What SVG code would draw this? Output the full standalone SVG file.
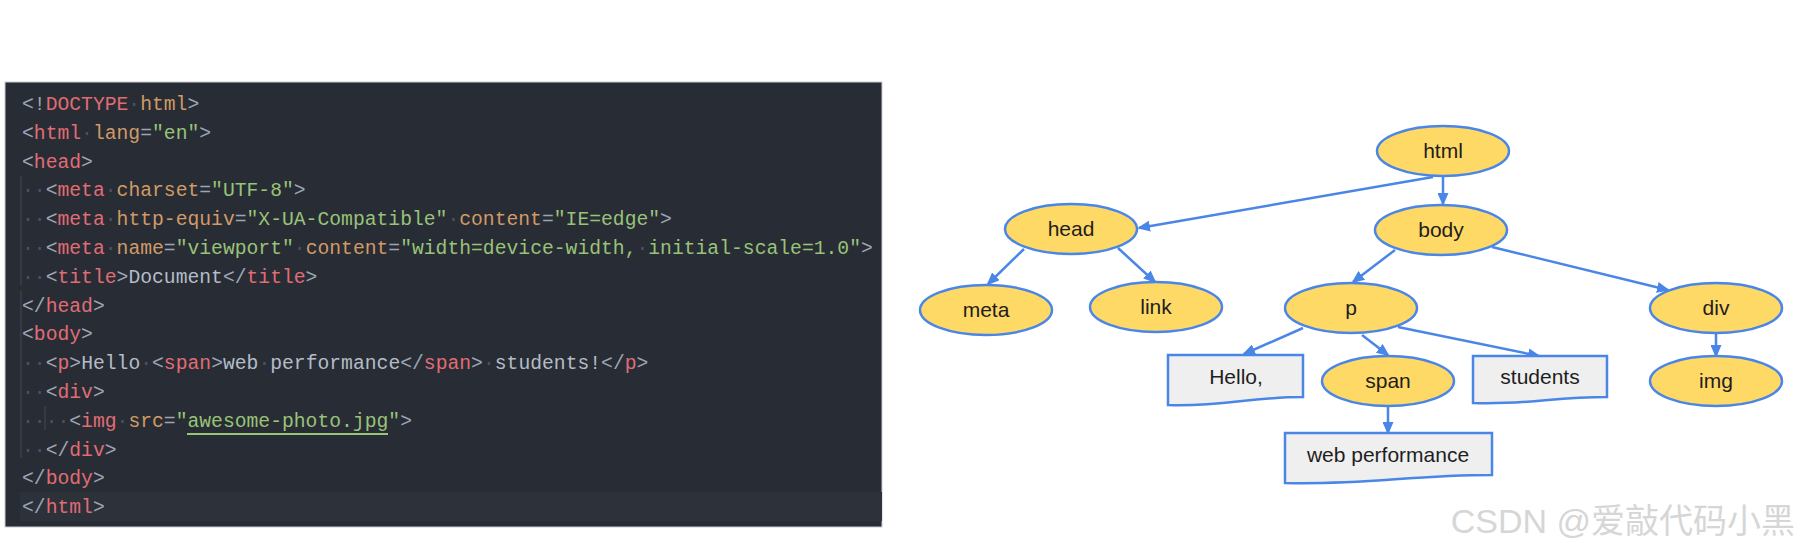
<svg xmlns="http://www.w3.org/2000/svg" width="1800" height="555" viewBox="0 0 1800 555">
<style>
.code{font-family:"Liberation Mono","DejaVu Sans Mono",monospace;font-size:19.7px}
.p{fill:#9da5b4}.t{fill:#e06c75}.a{fill:#d19a66}.s{fill:#98c379}.x{fill:#b4bcc8}.w{fill:#4b5263}
.guide{stroke:#3b4048;stroke-width:1.5}
.el{fill:#ffd966;stroke:#4a86e8;stroke-width:2.5}
.doc{fill:#efefef;stroke:#4a86e8;stroke-width:2.5}
.lbl{font-family:"Liberation Sans",Arial,sans-serif;font-size:21px;fill:#1e1e1e;text-anchor:middle}
.edge{stroke:#4a86e8;stroke-width:2.5;fill:none;marker-end:url(#arr)}
</style>
<defs>
<marker id="arr" markerUnits="userSpaceOnUse" markerWidth="13" markerHeight="11" refX="11" refY="5.5" orient="auto">
<path d="M0,0 L13,5.5 L0,11 z" fill="#4a86e8"/>
</marker>
</defs>
<rect width="1800" height="555" fill="#ffffff"/>
<g id="code-panel">
<rect x="5" y="82" width="877" height="445" fill="#282c34" stroke="#c9cbd0" stroke-width="1"/>
<rect x="20" y="492" width="862" height="29" fill="#2c313a"/>
<line class="guide" x1="21" y1="176" x2="21" y2="285"/>
<line class="guide" x1="21" y1="291" x2="21" y2="458"/>
<line class="guide" x1="45" y1="406" x2="45" y2="430"/>
<line x1="187" y1="434" x2="388" y2="434" stroke="#98c379" stroke-width="2"/>
<text class="code" x="22" y="110"><tspan class="p">&lt;!</tspan><tspan class="t">DOCTYPE</tspan><tspan class="w">·</tspan><tspan class="a">html</tspan><tspan class="p">&gt;</tspan></text>
<text class="code" x="22" y="138.8"><tspan class="p">&lt;</tspan><tspan class="t">html</tspan><tspan class="w">·</tspan><tspan class="a">lang</tspan><tspan class="p">=</tspan><tspan class="s">"en"</tspan><tspan class="p">&gt;</tspan></text>
<text class="code" x="22" y="167.6"><tspan class="p">&lt;</tspan><tspan class="t">head</tspan><tspan class="p">&gt;</tspan></text>
<text class="code" x="22" y="196.4"><tspan class="w">··</tspan><tspan class="p">&lt;</tspan><tspan class="t">meta</tspan><tspan class="w">·</tspan><tspan class="a">charset</tspan><tspan class="p">=</tspan><tspan class="s">"UTF-8"</tspan><tspan class="p">&gt;</tspan></text>
<text class="code" x="22" y="225.2"><tspan class="w">··</tspan><tspan class="p">&lt;</tspan><tspan class="t">meta</tspan><tspan class="w">·</tspan><tspan class="a">http-equiv</tspan><tspan class="p">=</tspan><tspan class="s">"X-UA-Compatible"</tspan><tspan class="w">·</tspan><tspan class="a">content</tspan><tspan class="p">=</tspan><tspan class="s">"IE=edge"</tspan><tspan class="p">&gt;</tspan></text>
<text class="code" x="22" y="254"><tspan class="w">··</tspan><tspan class="p">&lt;</tspan><tspan class="t">meta</tspan><tspan class="w">·</tspan><tspan class="a">name</tspan><tspan class="p">=</tspan><tspan class="s">"viewport"</tspan><tspan class="w">·</tspan><tspan class="a">content</tspan><tspan class="p">=</tspan><tspan class="s">"width=device-width,</tspan><tspan class="w">·</tspan><tspan class="s">initial-scale=1.0"</tspan><tspan class="p">&gt;</tspan></text>
<text class="code" x="22" y="282.8"><tspan class="w">··</tspan><tspan class="p">&lt;</tspan><tspan class="t">title</tspan><tspan class="p">&gt;</tspan><tspan class="x">Document</tspan><tspan class="p">&lt;/</tspan><tspan class="t">title</tspan><tspan class="p">&gt;</tspan></text>
<text class="code" x="22" y="311.6"><tspan class="p">&lt;/</tspan><tspan class="t">head</tspan><tspan class="p">&gt;</tspan></text>
<text class="code" x="22" y="340.4"><tspan class="p">&lt;</tspan><tspan class="t">body</tspan><tspan class="p">&gt;</tspan></text>
<text class="code" x="22" y="369.2"><tspan class="w">··</tspan><tspan class="p">&lt;</tspan><tspan class="t">p</tspan><tspan class="p">&gt;</tspan><tspan class="x">Hello</tspan><tspan class="w">·</tspan><tspan class="p">&lt;</tspan><tspan class="t">span</tspan><tspan class="p">&gt;</tspan><tspan class="x">web</tspan><tspan class="w">·</tspan><tspan class="x">performance</tspan><tspan class="p">&lt;/</tspan><tspan class="t">span</tspan><tspan class="p">&gt;</tspan><tspan class="w">·</tspan><tspan class="x">students!</tspan><tspan class="p">&lt;/</tspan><tspan class="t">p</tspan><tspan class="p">&gt;</tspan></text>
<text class="code" x="22" y="398"><tspan class="w">··</tspan><tspan class="p">&lt;</tspan><tspan class="t">div</tspan><tspan class="p">&gt;</tspan></text>
<text class="code" x="22" y="426.8"><tspan class="w">····</tspan><tspan class="p">&lt;</tspan><tspan class="t">img</tspan><tspan class="w">·</tspan><tspan class="a">src</tspan><tspan class="p">=</tspan><tspan class="s">"awesome-photo.jpg"</tspan><tspan class="p">&gt;</tspan></text>
<text class="code" x="22" y="455.6"><tspan class="w">··</tspan><tspan class="p">&lt;/</tspan><tspan class="t">div</tspan><tspan class="p">&gt;</tspan></text>
<text class="code" x="22" y="484.4"><tspan class="p">&lt;/</tspan><tspan class="t">body</tspan><tspan class="p">&gt;</tspan></text>
<text class="code" x="22" y="513.2"><tspan class="p">&lt;/</tspan><tspan class="t">html</tspan><tspan class="p">&gt;</tspan></text>
</g>
<g id="connectors">
<line class="edge" x1="1433" y1="177" x2="1139" y2="228"/>
<line class="edge" x1="1443" y1="177" x2="1443" y2="204"/>
<line class="edge" x1="1024" y1="249" x2="988" y2="284"/>
<line class="edge" x1="1118" y1="248" x2="1155" y2="282"/>
<line class="edge" x1="1395" y1="250" x2="1353" y2="282"/>
<line class="edge" x1="1492" y1="247" x2="1668" y2="290"/>
<line class="edge" x1="1303" y1="328" x2="1244" y2="354"/>
<line class="edge" x1="1362" y1="335" x2="1388" y2="355"/>
<line class="edge" x1="1398" y1="327" x2="1539" y2="356"/>
<line class="edge" x1="1388" y1="407" x2="1388" y2="433"/>
<line class="edge" x1="1716" y1="333" x2="1716" y2="356"/>
</g>
<g id="html"><ellipse class="el" cx="1443" cy="151" rx="66" ry="25"/><text class="lbl" x="1443" y="158">html</text></g>
<g id="head"><ellipse class="el" cx="1071" cy="229" rx="66" ry="25"/><text class="lbl" x="1071" y="236">head</text></g>
<g id="body"><ellipse class="el" cx="1441" cy="230" rx="66" ry="25"/><text class="lbl" x="1441" y="237">body</text></g>
<g id="meta"><ellipse class="el" cx="986" cy="310" rx="66" ry="25"/><text class="lbl" x="986" y="317">meta</text></g>
<g id="link"><ellipse class="el" cx="1156" cy="307" rx="66" ry="25"/><text class="lbl" x="1156" y="314">link</text></g>
<g id="p"><ellipse class="el" cx="1351" cy="308" rx="66" ry="25"/><text class="lbl" x="1351" y="315">p</text></g>
<g id="div"><ellipse class="el" cx="1716" cy="308" rx="66" ry="25"/><text class="lbl" x="1716" y="315">div</text></g>
<g id="span"><ellipse class="el" cx="1388" cy="381" rx="66" ry="25"/><text class="lbl" x="1388" y="388">span</text></g>
<g id="img"><ellipse class="el" cx="1716" cy="381" rx="66" ry="25"/><text class="lbl" x="1716" y="388">img</text></g>
<g id="hello"><path class="doc" d="M1168,355 H1303 V397 C1249,397 1222,407 1168,405 Z"/><text class="lbl" x="1236" y="384">Hello,</text></g>
<g id="students"><path class="doc" d="M1473,356 H1607 V397 C1553,397 1527,405 1473,403 Z"/><text class="lbl" x="1540" y="384">students</text></g>
<g id="webperf"><path class="doc" d="M1285,433 H1492 V475 C1409,475 1368,485 1285,483 Z"/><text class="lbl" x="1388" y="462">web performance</text></g>
<text x="1795" y="533" text-anchor="end" font-family="Liberation Sans,'Noto Sans CJK SC',sans-serif" font-size="34" fill="#d6d6d6">CSDN @爱敲代码小黑</text>
</svg>
